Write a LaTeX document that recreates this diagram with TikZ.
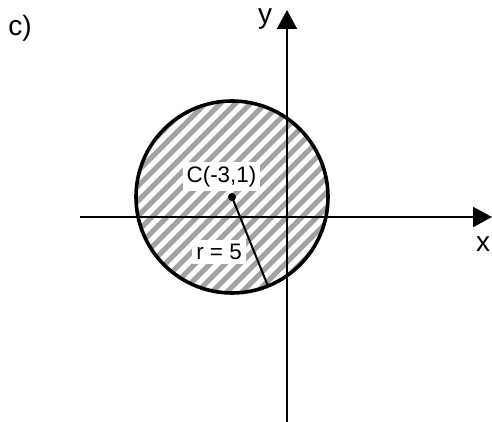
\documentclass[tikz,border=0pt]{standalone}
\usepackage{fontspec}
\setmainfont{Liberation Sans}
\usepackage{tikz}
\usetikzlibrary{arrows.meta,calc}
\definecolor{hatchgray}{gray}{0.64}

\begin{document}
\begin{tikzpicture}[
        x=0.5pt,
        y=-0.5pt,
        axislabel/.style={
            font=\fontsize{14}{16}\selectfont,
            inner sep=0pt
        },
        pointlabel/.style={
            font=\fontsize{11.2}{13}\selectfont,
            fill=white,
            inner sep=2pt
        },
        axis/.style={
            -{Triangle[length=9.5pt,width=10pt]},
            line width=1pt
        },
        hatch/.style={
            hatchgray,
            line width=2.5pt
        }
    ]

        \useasboundingbox (0,0) rectangle (492,422);

        % Punkte des Koordinatensystems
        \coordinate (xstart) at (80,217);
        \coordinate (xend)   at (492,217);
        \coordinate (ystart) at (287,422);
        \coordinate (yend)   at (287,10);
        \coordinate (center) at (232,197);

        % Schraffur der Kreisfläche
        \begin{scope}
            \clip (center) circle[radius=48pt];
            \foreach \k in {-12,...,12}
                \draw[hatch]
                    ($(center)+(\k*15-110,110)$) -- ++(220,-220);
        \end{scope}

        % Achsen
        \draw[axis] (xstart) -- (xend);
        \draw[axis] (ystart) -- (yend);

        % Kreis und Radius
        \draw[line width=1.8pt] (center) circle[radius=48pt];
        \coordinate (rim) at ($(center)+(68:96)$);
        \draw[line width=1pt] (center) -- (rim);
        \fill (center) circle[radius=2pt];

        % Beschriftungen
        \node[axislabel] (part)   at (20,28)  {c)};
        \node[axislabel] (ylabel) at (265,19) {y};
        \node[axislabel] (xlabel) at (483,244) {x};

        \node[pointlabel] (clabel) at (221.5,176.5) {C(-3,1)};
        \node[pointlabel] (rlabel) at (219,252)  {r = 5};

    \end{tikzpicture}
\end{document}
